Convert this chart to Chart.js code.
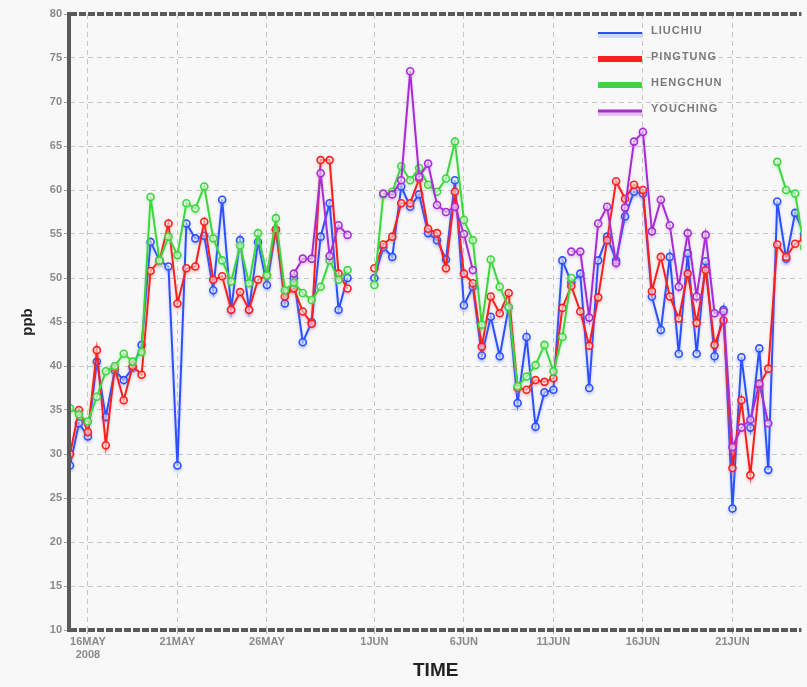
<!DOCTYPE html>
<html>
<head>
<meta charset="utf-8">
<script src="https://cdn.jsdelivr.net/npm/chart.js@4.4.0/dist/chart.umd.min.js"></script>
<style>
  html, body { margin: 0; padding: 0; background: #f8f8f8; }
  #wrap { width: 807px; height: 687px; position: relative; }
</style>
</head>
<body>
<div id="wrap"><canvas id="c"></canvas></div>
<script>
// ---- data (12-hourly samples starting 15MAY2008 00Z) ----
const seriesNames = ["LIUCHIU", "PINGTUNG", "HENGCHUN", "YOUCHING"];
const tickDays = [1, 6, 11, 17, 22, 27, 32, 37];           // days since 15MAY
const tickLabels = [["16MAY", "2008"], "21MAY", "26MAY", "1JUN", "6JUN", "11JUN", "16JUN", "21JUN"];
const yMin = 10, yMax = 80, yStep = 5;
const stepDays = 0.5;

const blue = [28.7,33.5,32.0,40.5,34.2,39.5,38.4,39.8,42.4,54.1,52.0,51.3,28.7,56.2,54.5,54.8,48.6,58.9,46.4,54.3,
  46.4,54.1,49.2,55.5,47.1,50.0,42.7,45.0,54.7,58.5,46.4,50.0,null,null,50.0,53.5,52.4,60.4,58.1,59.5,
  55.1,54.3,52.1,61.1,46.9,49.0,41.2,45.6,41.1,46.7,35.8,43.3,33.1,37.0,37.3,52.0,49.5,50.5,37.5,52.0,
  54.7,52.0,57.0,59.8,59.6,47.9,44.1,52.4,41.4,52.8,41.4,51.9,41.1,46.4,23.8,41.0,33.0,42.0,28.2,58.7,
  52.2,57.4,55.0];
const red = [30.0,35.0,32.5,41.8,31.0,39.8,36.1,40.0,39.0,50.8,52.0,56.2,47.1,51.1,51.3,56.4,49.8,50.2,46.4,48.4,
  46.4,49.8,50.3,55.5,47.9,48.8,46.2,44.8,63.4,63.4,50.5,48.8,null,null,51.1,53.8,54.7,58.5,58.5,61.3,
  55.6,55.1,51.1,59.8,50.5,49.4,42.2,47.9,46.0,48.3,37.5,37.3,38.4,38.2,38.6,46.6,49.1,46.2,42.3,47.8,
  54.3,61.0,59.0,60.6,60.0,48.5,52.4,47.9,45.4,50.5,44.9,50.9,42.4,45.2,28.4,36.1,27.6,37.8,39.7,53.8,
  52.4,53.9,54.5];
const green = [35.2,34.5,33.7,36.5,39.4,40.0,41.4,40.5,41.6,59.2,52.0,54.7,52.6,58.5,57.9,60.4,54.5,52.0,49.6,53.7,
  49.4,55.1,50.3,56.8,48.6,49.5,48.3,47.5,49.0,52.0,49.8,50.9,null,null,49.2,59.5,59.8,62.7,61.1,62.5,
  60.6,59.8,61.3,65.5,56.6,54.3,44.7,52.1,49.0,46.7,37.7,38.8,40.1,42.4,39.4,43.3,50.0,null,null,null,
  null,null,null,null,null,null,null,null,null,null,null,null,null,null,null,null,null,null,null,63.2,
  60.0,59.6,53.5];
const purple = [null,null,null,null,null,null,null,null,null,null,null,null,null,null,null,null,null,null,null,null,
  null,null,null,null,null,50.5,52.2,52.2,61.9,52.5,56.0,54.9,null,null,null,59.6,59.5,61.1,73.5,61.5,
  63.0,58.3,57.5,58.1,55.0,50.9,null,null,null,null,null,null,null,null,null,null,53.0,53.0,45.5,56.2,
  58.1,51.7,58.0,65.5,66.6,55.3,58.9,56.0,49.0,55.1,47.9,54.9,46.0,46.2,30.8,33.0,33.9,38.0,33.5,null,
  null,null,null];

const toPoints = arr => arr.map((v, i) => ({ x: i * stepDays, y: v }));

const styles = [
  { color: 'rgb(45,80,255)',  halo: 'rgba(90,120,255,0.35)', legendW: 2, legendHalo: 'rgba(160,180,255,0.45)', order: 3 },
  { color: 'rgb(250,30,30)',  halo: 'rgba(255,110,110,0.30)', legendW: 6, legendHalo: null, order: 2 },
  { color: 'rgb(60,215,60)',  halo: 'rgba(120,230,120,0.30)', legendW: 6, legendHalo: null, order: 1 },
  { color: 'rgb(165,45,210)', halo: 'rgba(200,120,235,0.35)', legendW: 3, legendHalo: 'rgba(215,150,240,0.55)', order: 0 }
];
const allSeries = [blue, red, green, purple];

const datasets = allSeries.map((arr, k) => ({
  label: seriesNames[k],
  data: toPoints(arr),
  borderColor: styles[k].color,
  borderWidth: 2,
  pointRadius: 3.5,
  pointBorderWidth: 1.6,
  pointBorderColor: styles[k].color,
  pointBackgroundColor: 'rgba(255,255,255,0.55)',
  spanGaps: false,
  tension: 0,
  order: styles[k].order,
  halo: styles[k].halo,
  legendW: styles[k].legendW,
  legendHalo: styles[k].legendHalo
}));

const haloPlugin = {
  id: 'halo',
  beforeDatasetDraw(chart, args) {
    const ds = chart.data.datasets[args.index];
    const ctx = chart.ctx;
    ctx.save();
    ctx.shadowColor = ds.halo;
    ctx.shadowBlur = 3;
    ctx.shadowOffsetY = 2;
  },
  afterDatasetDraw(chart) { chart.ctx.restore(); }
};

const framePlugin = {
  id: 'frame',
  afterDraw(chart) {
    const { left, top, bottom, right } = chart.chartArea;
    const ctx = chart.ctx;
    ctx.save();
    ctx.strokeStyle = '#5a5a5a';
    ctx.lineWidth = 4;
    ctx.beginPath(); ctx.moveTo(left - 1, top - 2); ctx.lineTo(left - 1, bottom + 2); ctx.stroke();
    ctx.setLineDash([7, 2]);
    ctx.beginPath(); ctx.moveTo(left, top); ctx.lineTo(right, top); ctx.stroke();
    ctx.beginPath(); ctx.moveTo(left, bottom); ctx.lineTo(right, bottom); ctx.stroke();
    ctx.restore();
  }
};

const legendPlugin = {
  id: 'insideLegend',
  afterDraw(chart) {
    const ctx = chart.ctx;
    const { top } = chart.chartArea;
    ctx.save();
    ctx.font = 'bold 11px "Liberation Sans", Arial, sans-serif';
    ctx.letterSpacing = '1px';
    ctx.fillStyle = '#7a7a7a';
    ctx.textBaseline = 'middle';
    chart.data.datasets.forEach((ds, k) => {
      const y = top + 19 + k * 26;
      const x0 = 598, x1 = 642;
      if (ds.legendHalo) {
        ctx.fillStyle = ds.legendHalo;
        ctx.fillRect(x0, y, x1 - x0, 5);
      }
      ctx.strokeStyle = ds.borderColor;
      ctx.lineWidth = ds.legendW;
      ctx.beginPath(); ctx.moveTo(x0, y); ctx.lineTo(x1, y); ctx.stroke();
      ctx.fillStyle = '#7a7a7a';
      ctx.fillText(ds.label, 651, y - 2);
    });
    ctx.restore();
  }
};

const tickFont = { family: '"Liberation Sans", Arial, sans-serif', size: 11, weight: 'bold' };

new Chart(document.getElementById('c'), {
  type: 'line',
  data: { datasets },
  options: {
    responsive: true,
    maintainAspectRatio: false,
    animation: false,
    layout: { padding: { top: 14, right: 0, bottom: 0, left: 0 } },
    plugins: { legend: { display: false }, tooltip: { enabled: false }, title: { display: false } },
    scales: {
      x: {
        type: 'linear',
        min: 0,
        max: 40.85,
        afterBuildTicks: s => { s.ticks = tickDays.map(v => ({ value: v })); },
        afterFit: s => { s.height = 57; },
        ticks: {
          autoSkip: false, maxRotation: 0, minRotation: 0,
          color: '#8a8a8a', font: tickFont, padding: 1,
          callback: (v, i) => tickLabels[i]
        },
        grid: { color: '#c6c6c6', lineWidth: 1, tickLength: 4, tickColor: '#b0b0b0' },
        border: { display: false, dash: [5, 4] },
        title: {
          display: true, text: 'TIME', color: '#222',
          font: { family: '"Liberation Sans", Arial, sans-serif', size: 19, weight: 'bold' },
          padding: { top: 0, bottom: 5 }
        }
      },
      y: {
        min: yMin, max: yMax,
        afterFit: s => { s.width = 70; },
        ticks: { stepSize: yStep, color: '#8a8a8a', font: tickFont, padding: 2 },
        grid: { color: '#c6c6c6', lineWidth: 1, tickLength: 6, tickColor: '#a0a0a0' },
        border: { display: false, dash: [5, 4] },
        title: {
          display: true, text: 'ppb', color: '#222',
          font: { family: '"Liberation Sans", Arial, sans-serif', size: 15, weight: 'bold' },
          padding: { top: 19, bottom: 0 }
        }
      }
    }
  },
  plugins: [haloPlugin, framePlugin, legendPlugin]
});
</script>
</body>
</html>
